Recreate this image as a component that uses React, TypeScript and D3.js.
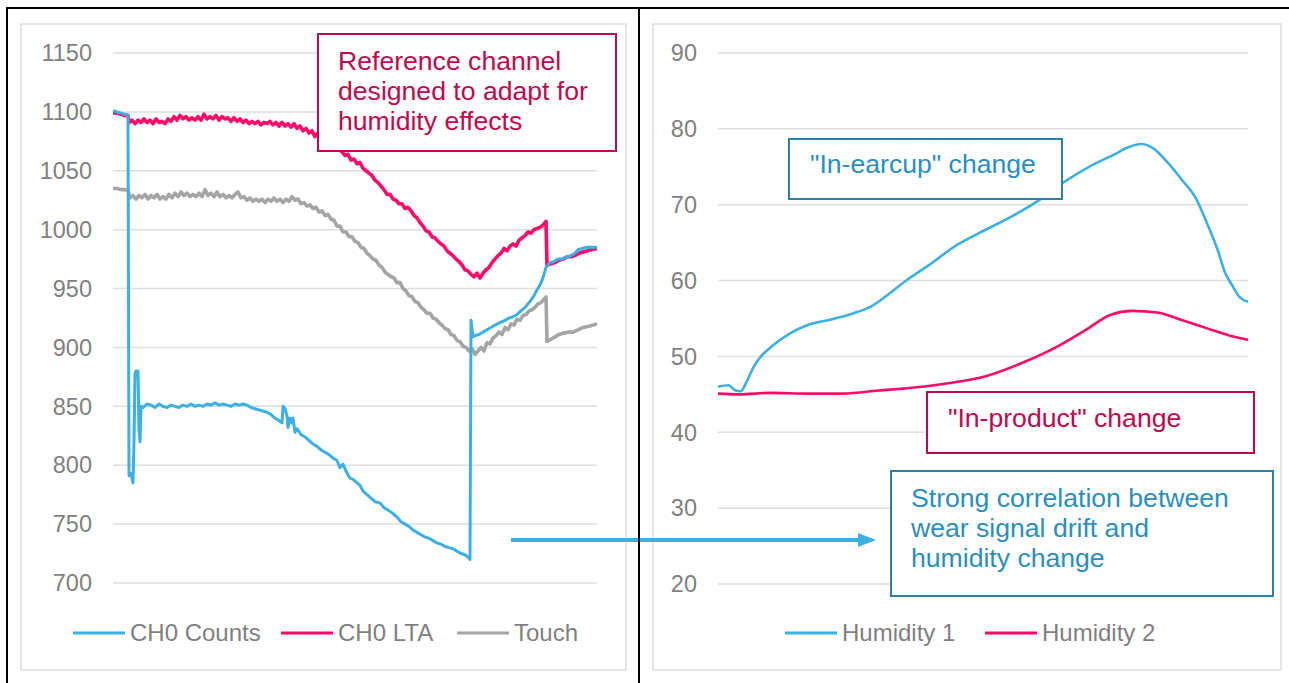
import React from 'react'
import * as d3 from 'd3'

// left chart: sample index vs counts
const ch0Counts: [number, number][] = [
  [0, 1101], [4, 1100], [8, 1099], [12, 1098], [15, 1097], [16, 791], [18, 793], [20, 785], [21, 820], [22, 878],
  [23, 880], [24, 876], [25, 880], [26, 830], [27, 820], [28, 850], [30, 849], [34, 852], [38, 851], [42, 849],
  [46, 852], [50, 850], [54, 849], [58, 851], [62, 850], [66, 849], [70, 851], [74, 850], [78, 852], [82, 850],
  [86, 851], [90, 850], [94, 852], [98, 851], [102, 853], [106, 851], [110, 852], [114, 851], [118, 850], [122, 852],
  [126, 851], [130, 852], [134, 851], [138, 849], [142, 848], [146, 847], [150, 846], [154, 845], [158, 843], [162, 840],
  [166, 838], [169, 836], [170, 850], [172, 848], [174, 842], [175, 832], [177, 840], [179, 836], [180, 840], [182, 828],
  [184, 831], [188, 826], [192, 824], [196, 821], [200, 818], [204, 816], [208, 813], [212, 811], [216, 809], [220, 806],
  [224, 804], [227, 798], [230, 801], [233, 795], [237, 789], [240, 788], [244, 785], [247, 783], [250, 778], [254, 775],
  [258, 772], [262, 769], [267, 768], [271, 764], [275, 762], [280, 759], [284, 756], [288, 752], [292, 750], [296, 748],
  [300, 745], [304, 743], [308, 741], [312, 739], [316, 738], [320, 736], [324, 734], [328, 733], [332, 731], [336, 730],
  [340, 729], [344, 727], [348, 725], [352, 724], [355, 722], [357, 720], [358, 923], [360, 909], [362, 910], [366, 911],
  [370, 913], [374, 915], [378, 917], [382, 919], [387, 921], [392, 923], [396, 925], [400, 926], [404, 928], [408, 931],
  [412, 934], [417, 939], [421, 944], [424, 949], [427, 953], [429, 957], [431, 962], [433, 968], [437, 972], [441, 973],
  [445, 975], [449, 975], [454, 977], [458, 978], [462, 980], [465, 983], [469, 984], [474, 985], [478, 985], [484, 985],
]

const ch0Lta: [number, number][] = [
  [0, 1099], [4, 1099], [8, 1098], [12, 1097], [15, 1097], [16, 1091], [19, 1093], [22, 1090], [25, 1093], [28, 1091],
  [31, 1094], [34, 1091], [37, 1093], [40, 1090], [43, 1094], [46, 1091], [49, 1092], [52, 1090], [55, 1094], [58, 1092],
  [61, 1096], [64, 1093], [67, 1097], [70, 1094], [73, 1096], [76, 1093], [79, 1095], [82, 1093], [85, 1096], [88, 1093],
  [91, 1098], [94, 1094], [97, 1096], [100, 1094], [103, 1097], [106, 1093], [109, 1096], [112, 1094], [115, 1095], [118, 1092],
  [121, 1095], [124, 1092], [127, 1094], [130, 1091], [133, 1093], [136, 1090], [139, 1092], [142, 1090], [145, 1092], [148, 1089],
  [151, 1091], [154, 1090], [157, 1092], [160, 1089], [163, 1091], [166, 1088], [169, 1091], [172, 1088], [175, 1090], [178, 1087],
  [181, 1090], [184, 1086], [187, 1088], [190, 1084], [193, 1086], [196, 1082], [199, 1084], [202, 1079], [205, 1082], [208, 1078],
  [211, 1079], [214, 1075], [217, 1077], [220, 1072], [223, 1073], [226, 1068], [229, 1066], [232, 1063], [235, 1064], [238, 1059],
  [241, 1060], [244, 1056], [247, 1057], [250, 1052], [253, 1050], [256, 1048], [259, 1046], [262, 1042], [265, 1040], [268, 1037],
  [271, 1034], [274, 1030], [277, 1030], [280, 1026], [283, 1025], [286, 1022], [289, 1022], [292, 1018], [295, 1019], [298, 1016],
  [301, 1012], [304, 1010], [307, 1006], [310, 1003], [313, 999], [316, 998], [319, 994], [322, 993], [325, 990], [328, 988],
  [331, 986], [334, 982], [337, 980], [340, 978], [343, 975], [346, 973], [349, 970], [352, 966], [355, 965], [358, 962],
  [361, 960], [364, 963], [367, 959], [370, 963], [373, 966], [376, 968], [379, 972], [382, 975], [385, 978], [388, 980],
  [391, 984], [394, 982], [397, 986], [400, 988], [403, 986], [406, 991], [409, 993], [412, 995], [415, 998], [418, 997],
  [421, 1000], [424, 1001], [427, 1002], [430, 1004], [433, 1007], [434, 970], [438, 971], [442, 972], [446, 974], [450, 975],
  [454, 977], [458, 977], [462, 978], [466, 980], [470, 981], [474, 982], [478, 983], [484, 984],
]

const touch: [number, number][] = [
  [0, 1035], [4, 1035], [8, 1034], [12, 1034], [15, 1033], [17, 1027], [20, 1029], [23, 1026], [26, 1029], [29, 1027],
  [32, 1030], [35, 1026], [38, 1029], [41, 1027], [44, 1030], [47, 1026], [50, 1028], [53, 1026], [56, 1030], [59, 1027],
  [62, 1031], [65, 1028], [68, 1032], [71, 1029], [74, 1031], [77, 1028], [80, 1030], [83, 1028], [86, 1031], [89, 1028],
  [92, 1034], [95, 1029], [98, 1031], [101, 1028], [104, 1032], [107, 1028], [110, 1030], [113, 1027], [116, 1029], [119, 1027],
  [122, 1030], [125, 1032], [128, 1027], [131, 1028], [134, 1025], [137, 1027], [140, 1024], [143, 1026], [146, 1024], [149, 1026],
  [152, 1023], [155, 1026], [158, 1024], [161, 1027], [164, 1024], [167, 1026], [170, 1023], [173, 1026], [176, 1024], [179, 1028],
  [182, 1025], [185, 1026], [188, 1022], [191, 1023], [194, 1020], [197, 1021], [200, 1018], [203, 1019], [206, 1015], [209, 1016],
  [212, 1012], [215, 1013], [218, 1009], [221, 1008], [224, 1003], [227, 1003], [230, 998], [233, 998], [236, 994], [239, 994],
  [242, 990], [245, 989], [248, 985], [251, 984], [254, 980], [257, 978], [260, 975], [263, 974], [266, 970], [269, 968],
  [272, 964], [275, 962], [278, 960], [281, 959], [284, 955], [287, 955], [290, 950], [293, 948], [296, 944], [299, 943],
  [302, 939], [305, 938], [308, 934], [311, 932], [314, 929], [317, 929], [320, 925], [323, 924], [326, 921], [329, 919],
  [332, 916], [335, 915], [338, 911], [341, 910], [344, 906], [347, 905], [350, 901], [353, 900], [356, 897], [359, 899],
  [362, 894], [365, 897], [368, 900], [371, 897], [374, 904], [377, 903], [380, 908], [383, 910], [386, 913], [389, 911],
  [392, 917], [395, 915], [398, 920], [401, 919], [404, 924], [407, 923], [410, 927], [413, 928], [416, 931], [419, 932],
  [422, 934], [425, 937], [428, 938], [431, 941], [433, 943], [434, 905], [438, 907], [442, 909], [446, 911], [450, 912],
  [455, 913], [460, 913], [465, 915], [470, 917], [476, 918], [484, 920],
]

// right chart: time (%) vs humidity
const humidity1: [number, number][] = [
  [0, 46.0], [2, 46.2], [3.3, 45.5], [4.3, 45.4], [5.3, 46.5], [6.7, 48.6], [8.1, 50.0], [10.1, 51.3], [13.5, 53.0],
  [16.8, 54.1], [21.5, 54.9], [25.6, 55.7], [28.9, 56.6], [31.6, 57.9], [35.7, 60.1], [39.7, 62.0], [45.1, 64.7],
  [50.5, 66.7], [55.8, 68.6], [60.6, 70.6], [65.3, 73.0], [70, 75.0], [74.7, 76.6], [77.5, 77.6], [79.8, 78.0],
  [82.2, 77.4], [84.9, 75.5], [87.5, 73.3], [90.2, 70.8], [92.3, 67.5], [94.3, 64.0], [95.7, 61.0], [97, 59.4],
  [98.3, 57.9], [100, 57.2],
]

const humidity2: [number, number][] = [
  [0, 45.1], [4, 45.0], [10, 45.2], [16.8, 45.1], [23.6, 45.1], [30.3, 45.5], [37, 45.9], [43.8, 46.5], [50.5, 47.4],
  [57.2, 49.1], [64, 51.3], [69.4, 53.5], [74.1, 55.5], [78.1, 56.0], [82.9, 55.8], [87.5, 54.8], [92.3, 53.7],
  [96.3, 52.8], [100, 52.2],
]

const leftSeries = [
  { name: 'CH0 Counts', color: '#3bb0e3', width: 3, data: ch0Counts },
  { name: 'CH0 LTA', color: '#ff0a68', width: 3.6, data: ch0Lta },
  { name: 'Touch', color: '#a5a5a5', width: 3.6, data: touch },
]
const rightSeries = [
  { name: 'Humidity 1', color: '#3bb0e3', data: humidity1 },
  { name: 'Humidity 2', color: '#ff0a68', data: humidity2 },
]

const FONT = '"Liberation Sans", Arial, sans-serif'
const GRID = '#dedede'
const TICK = '#7f7f7f'
const PINK_BOX = '#c0084e'
const BLUE_BOX = '#2e7fa8'
const BLUE_TXT = '#2a8fc0'

const xL = d3.scaleLinear().domain([0, 484]).range([113, 597])
const yL = d3.scaleLinear().domain([700, 1150]).range([583, 53])
const xR = d3.scaleLinear().domain([0, 100]).range([718, 1248])
const yR = d3.scaleLinear().domain([20, 90]).range([584, 53])

const lineL = d3.line<[number, number]>().x(d => xL(d[0])).y(d => yL(d[1]))
const lineR = d3.line<[number, number]>().x(d => xR(d[0])).y(d => yR(d[1])).curve(d3.curveMonotoneX)

const Note = ({ x, y, w, h, stroke, color, lines, tx, ty }: any) => (
  <g>
    <rect x={x} y={y} width={w} height={h} fill="white" stroke={stroke} strokeWidth={2} />
    {lines.map((l: string, i: number) => (
      <text key={i} x={tx} y={ty + i * 30} fill={color} fontSize={26.6}>{l}</text>
    ))}
  </g>
)

export default function App() {
  return (
    <svg width={1289} height={683} style={{ position: 'absolute', left: 0, top: 0, fontFamily: FONT }}>
      <rect width={1289} height={683} fill="white" />
      {/* chart frames */}
      <rect x={21} y={24} width={605} height={646} fill="none" stroke={GRID} strokeWidth={1.5} />
      <rect x={653} y={24} width={628} height={646} fill="none" stroke={GRID} strokeWidth={1.5} />

      {/* left grid + ticks */}
      {yL.ticks(10).map(t => (
        <g key={t}>
          <line x1={113} x2={597} y1={yL(t)} y2={yL(t)} stroke={GRID} strokeWidth={1.5} />
          <text x={92} y={yL(t)} dy="0.35em" textAnchor="end" fill={TICK} fontSize={23.5}>{t}</text>
        </g>
      ))}
      {/* right grid + ticks */}
      {yR.ticks(7).map(t => (
        <g key={t}>
          <line x1={718} x2={1248} y1={yR(t)} y2={yR(t)} stroke={GRID} strokeWidth={1.5} />
          <text x={697} y={yR(t)} dy="0.35em" textAnchor="end" fill={TICK} fontSize={23.5}>{t}</text>
        </g>
      ))}

      {[...leftSeries].reverse().map(s => (
        <path key={s.name} d={lineL(s.data) || ''} fill="none" stroke={s.color} strokeWidth={s.width} strokeLinejoin="round" />
      ))}
      {[...rightSeries].reverse().map(s => (
        <path key={s.name} d={lineR(s.data) || ''} fill="none" stroke={s.color} strokeWidth={2.6} strokeLinejoin="round" />
      ))}

      {/* legends */}
      {leftSeries.map((s, i) => {
        const lx = [73, 281, 457][i]
        return (
          <g key={s.name}>
            <line x1={lx} x2={lx + 52} y1={633} y2={633} stroke={s.color} strokeWidth={3} />
            <text x={lx + 57} y={633} dy="0.35em" fill={TICK} fontSize={24}>{s.name}</text>
          </g>
        )
      })}
      {rightSeries.map((s, i) => {
        const lx = [785, 985][i]
        return (
          <g key={s.name}>
            <line x1={lx} x2={lx + 52} y1={633} y2={633} stroke={s.color} strokeWidth={3} />
            <text x={lx + 57} y={633} dy="0.35em" fill={TICK} fontSize={24}>{s.name}</text>
          </g>
        )
      })}

      {/* annotations */}
      <Note x={318} y={34} w={298} h={117} stroke={PINK_BOX} color={PINK_BOX} tx={338} ty={70}
        lines={['Reference channel', 'designed to adapt for', 'humidity effects']} />
      <Note x={789} y={139} w={273} h={60} stroke={BLUE_BOX} color={BLUE_TXT} tx={810} ty={173}
        lines={['"In-earcup" change']} />
      <Note x={927} y={392} w={327} h={61} stroke={PINK_BOX} color={PINK_BOX} tx={948} ty={427}
        lines={['"In-product" change']} />
      <Note x={891} y={471} w={382} h={125} stroke={BLUE_BOX} color={BLUE_TXT} tx={911} ty={507}
        lines={['Strong correlation between', 'wear signal drift and', 'humidity change']} />

      {/* arrow */}
      <line x1={511} x2={862} y1={540} y2={540} stroke="#3bb0e3" strokeWidth={4} />
      <path d="M858,533 L876,540 L858,547 Z" fill="#3bb0e3" />

      {/* outer frame */}
      <line x1={7} x2={1289} y1={8} y2={8} stroke="black" strokeWidth={2} />
      <line x1={7} x2={7} y1={7} y2={683} stroke="black" strokeWidth={2} />
      <line x1={639} x2={639} y1={7} y2={683} stroke="black" strokeWidth={2} />
    </svg>
  )
}
